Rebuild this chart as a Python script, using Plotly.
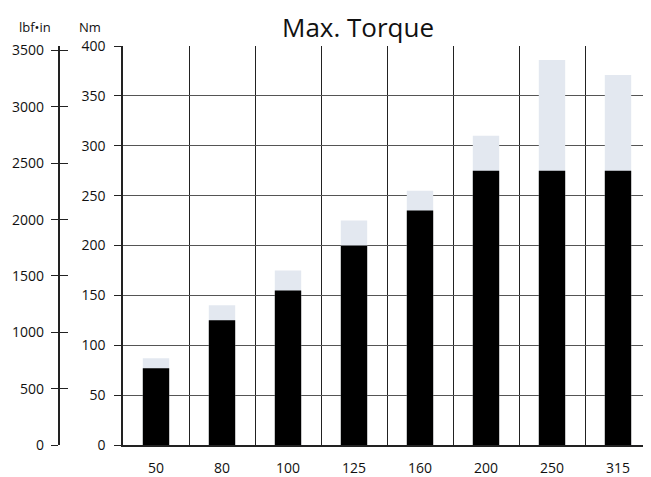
import plotly.graph_objects as go

categories = ["50", "80", "100", "125", "160", "200", "250", "315"]
max_torque_nm = [87, 140, 175, 225, 255, 310, 386, 371]
rated_torque_nm = [77, 125, 155, 200, 235, 275, 275, 275]
nm_to_lbfin = 8.85075

# page body has an 8px margin; compensate so marks land where the reference has them
OFF = 8
W, H = 651 - OFF, 477 - OFF
ml, mr, mt, mb = 12, 0, 46 - OFF, 30
pw = W - ml - mr
plot_left = 123 - OFF
lbf_axis_x = 58.5 - OFF

font = "Open Sans, DejaVu Sans, sans-serif"
tf = dict(size=14, color="#111")

fig = go.Figure()
fig.add_trace(go.Bar(x=categories, y=max_torque_nm, marker=dict(color="#E3E8F0", line=dict(width=0)),
                     width=0.4, showlegend=False, hoverinfo="y"))
fig.add_trace(go.Bar(x=categories, y=rated_torque_nm, marker=dict(color="#000000", line=dict(width=0)),
                     width=0.4, showlegend=False, hoverinfo="y"))

fig.update_layout(
    width=W, height=H,
    margin=dict(l=ml, r=mr, t=mt, b=mb),
    paper_bgcolor="white", plot_bgcolor="white",
    barmode="overlay",
    font=dict(family=font, size=14, color="#111"),
    xaxis=dict(
        type="category", domain=[(plot_left - ml) / pw, 1],
        tickson="boundaries", showgrid=True, gridcolor="#222", gridwidth=1,
        ticks="", showline=True, linecolor="#222", linewidth=1.5, ticklabelstandoff=9,
        tickfont=tf, zeroline=False,
    ),
    yaxis=dict(
        range=[0, 400], dtick=50, showgrid=True, gridcolor="#555", gridwidth=1.3,
        ticks="outside", ticklen=7, tickcolor="#222", showline=True, linecolor="#222", linewidth=1.5,
        zeroline=False, tickfont=tf, ticklabelstandoff=6,
    ),
    yaxis2=dict(
        range=[0, 400 * nm_to_lbfin], dtick=500, overlaying="y", anchor="free",
        position=(lbf_axis_x - ml) / pw, side="left",
        showgrid=False, zeroline=False, ticks="outside", ticklen=7, tickcolor="#222",
        showline=True, linecolor="#222", linewidth=1.5, tickfont=tf,
        ticklabelstandoff=4,
    ),
    yaxis3=dict(
        range=[0, 400 * nm_to_lbfin], dtick=500, overlaying="y", anchor="free",
        position=(lbf_axis_x - ml) / pw, side="left",
        showgrid=False, zeroline=False, ticks="inside", ticklen=8, tickcolor="#222",
        showline=False, showticklabels=False,
    ),
    annotations=[
        dict(text="Max. Torque", xref="paper", yref="paper", x=(358 - OFF - ml) / pw, y=1,
             yshift=19, xanchor="center", yanchor="middle", showarrow=False,
             font=dict(size=26, color="#111", family=font)),
        dict(text="lbf•in", xref="paper", yref="paper", x=(35 - OFF - ml) / pw, y=1,
             yshift=19, xanchor="center", yanchor="middle", showarrow=False,
             font=dict(size=13, color="#111", family=font)),
        dict(text="Nm", xref="paper", yref="paper", x=(90 - OFF - ml) / pw, y=1,
             yshift=19, xanchor="center", yanchor="middle", showarrow=False,
             font=dict(size=13, color="#111", family=font)),
    ],
)

# invisible traces so the secondary axes render
fig.add_trace(go.Scatter(x=[categories[0]], y=[0], yaxis="y2", mode="markers",
                         marker=dict(opacity=0), showlegend=False, hoverinfo="skip"))
fig.add_trace(go.Scatter(x=[categories[0]], y=[0], yaxis="y3", mode="markers",
                         marker=dict(opacity=0), showlegend=False, hoverinfo="skip"))

fig.write_html("out.html")
